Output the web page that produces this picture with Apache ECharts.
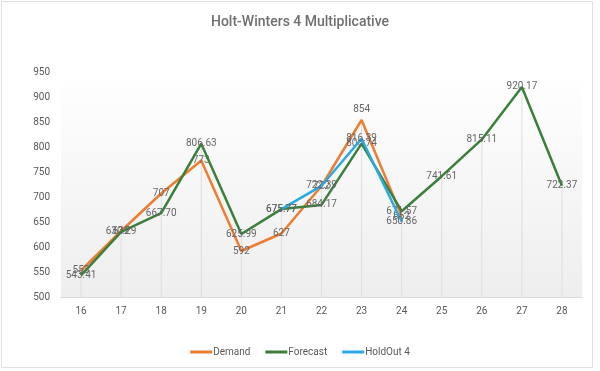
<!DOCTYPE html>
<html>
<head>
<meta charset="utf-8">
<script src="https://cdn.jsdelivr.net/npm/echarts@6/dist/echarts.min.js"></script>
<style>html,body{margin:0;padding:0;background:#fff}#c{width:600px;height:371px}</style>
</head>
<body>
<div id="c"></div>
<script>
const periods = ['16','17','18','19','20','21','22','23','24','25','26','27','28'];
const demand = [553, 632, 707, 773, 592, 627, 722, 854, 662, null, null, null, null];
const forecast = [543.41, 630.29, 667.70, 806.63, 625.99, 675.77, 684.17, 806.74, 671.57, 741.61, 815.11, 920.17, 722.37];
const holdout = [null, null, null, null, null, 675.77, 722.39, 816.39, 650.86, null, null, null, null];
const yTicks = [500, 550, 600, 650, 700, 750, 800, 850, 900, 950];

const dropTop = periods.map((p, i) => {
  const vals = [demand[i], forecast[i], holdout[i]].filter(v => v != null);
  return vals.length ? Math.max(...vals) : null;
});

const txt = '#595959';
const font = 'Roboto, "Liberation Sans", sans-serif';
const lbl = (dec) => ({
  show: true, position: 'inside', color: '#666666', fontSize: 10, fontFamily: font,
  formatter: p => p.value == null ? '' : (dec ? Number(p.value).toFixed(2) : String(p.value))
});

const demandData = demand.map((v, i) => (v === 854 ? { value: v, label: { position: 'top', distance: 6 } } : v));

const chart = echarts.init(document.getElementById('c'), null, { renderer: 'canvas' });
chart.setOption({
  animation: false,
  backgroundColor: '#fff',
  title: {
    text: 'Holt-Winters 4 Multiplicative', left: 'center', top: 10,
    textStyle: { color: '#6f6f6f', fontSize: 14, fontWeight: 500, fontFamily: font }
  },
  legend: {
    bottom: 9, left: 'center', itemWidth: 22, itemHeight: 3, itemGap: 15, icon: 'rect',
    data: ['Demand', 'Forecast', 'HoldOut 4'],
    textStyle: { color: txt, fontSize: 10, fontFamily: font, padding: [0, 0, 0, -4] }
  },
  grid: {
    left: 61, right: 18, top: 72, bottom: 74, show: true, borderWidth: 0,
    backgroundColor: new echarts.graphic.LinearGradient(0, 0, 0, 1, [
      { offset: 0, color: '#ffffff' }, { offset: 1, color: '#eeeeee' }
    ])
  },
  xAxis: {
    type: 'category', data: periods, boundaryGap: true,
    axisLine: { show: true, lineStyle: { color: '#d9d9d9' } },
    axisTick: { show: false },
    axisLabel: { color: txt, fontSize: 10, fontFamily: font, margin: 9 },
    splitLine: { show: false }
  },
  yAxis: {
    type: 'value', min: yTicks[0], max: yTicks[yTicks.length - 1], interval: 50,
    axisLine: { show: false }, axisTick: { show: false },
    axisLabel: { color: txt, fontSize: 10, fontFamily: font, margin: 11 },
    splitLine: { show: false }
  },
  series: [
    {
      name: 'drop', type: 'bar', data: dropTop, barWidth: 1, silent: true, z: 1,
      itemStyle: { color: '#dedede' }, legendHoverLink: false
    },
    {
      name: 'Demand', type: 'line', data: demandData, symbol: 'circle', symbolSize: 0, showSymbol: true,
      lineStyle: { color: '#ED7D31', width: 2.5 }, itemStyle: { color: '#ED7D31' }, label: lbl(false), z: 3
    },
    {
      name: 'Forecast', type: 'line', data: forecast, symbol: 'circle', symbolSize: 0, showSymbol: true,
      lineStyle: { color: '#3A7F3A', width: 2.5 }, itemStyle: { color: '#3A7F3A' }, label: lbl(true), z: 4
    },
    {
      name: 'HoldOut 4', type: 'line', data: holdout, symbol: 'circle', symbolSize: 0, showSymbol: true,
      lineStyle: { color: '#2AAAE2', width: 2.5 }, itemStyle: { color: '#2AAAE2' }, label: lbl(true), z: 5
    }
  ],
  graphic: [{
    type: 'rect', shape: { x: 1.5, y: 1.5, width: 591, height: 366 },
    style: { fill: 'none', stroke: '#e0e0e0', lineWidth: 1 }, silent: true
  }]
});
</script>
</body>
</html>
